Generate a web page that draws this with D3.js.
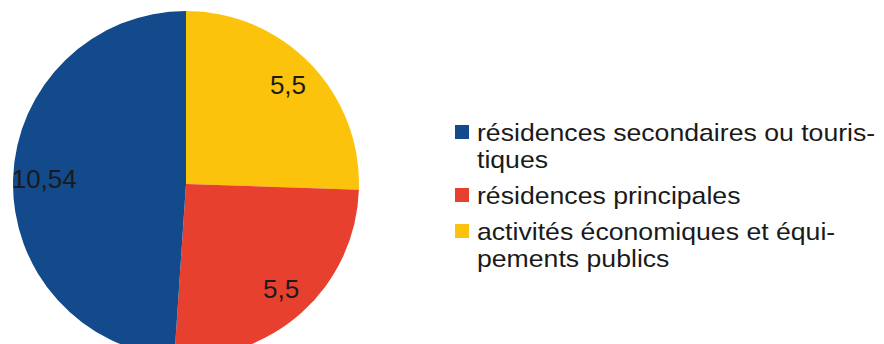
<!DOCTYPE html>
<html>
<head>
<meta charset="utf-8">
<script src="https://cdn.jsdelivr.net/npm/d3@7"></script>
<style>
  body { margin: 0; background: #fff; }
  svg { font-family: "Liberation Sans", Arial, sans-serif; }
</style>
</head>
<body>
<svg id="chart" width="884" height="344"></svg>
<script>
// Data, in drawing order (clockwise from 12 o'clock)
var labels = ["activités économiques et équipements publics", "résidences principales", "résidences secondaires ou touristiques"];
var values = [5.5, 5.5, 10.54];
var colors = ["#fcc30c", "#e8402e", "#124a8c"];

// Legend order and wrapped lines
var legendOrder = [2, 1, 0];
var legendLines = [
  ["activités économiques et équi-", "pements publics"],
  ["résidences principales"],
  ["résidences secondaires ou touris-", "tiques"]
];

var svg = d3.select("#chart");

var cx = 186, cy = 184, radius = 173;

var pie = d3.pie().sort(null).value(function (d) { return d; });
var arcs = pie(values);

var arc = d3.arc().innerRadius(0).outerRadius(radius);
var labelArc = d3.arc().innerRadius(radius * 0.82).outerRadius(radius * 0.82);

var g = svg.append("g").attr("transform", "translate(" + cx + "," + cy + ")");

g.selectAll("path")
  .data(arcs)
  .enter()
  .append("path")
  .attr("d", arc)
  .attr("fill", function (d, i) { return colors[i]; });

var fmt = function (v) { return String(v).replace(".", ","); };

g.selectAll("text")
  .data(arcs)
  .enter()
  .append("text")
  .attr("transform", function (d) { return "translate(" + labelArc.centroid(d) + ")"; })
  .attr("text-anchor", "middle")
  .attr("dy", "0.35em")
  .attr("font-size", 26)
  .attr("fill", "#1a1a1a")
  .text(function (d) { return fmt(d.data); });

// Legend (ly = baseline of each item's first line)
// the scanned text is a bit wider than Liberation Sans, so stretch it slightly
var lineH = 27, itemGap = 9;
var ly = 141;
var legend = svg.append("g");
legendOrder.forEach(function (idx) {
  var lines = legendLines[idx];
  legend.append("rect")
    .attr("x", 455)
    .attr("y", ly - 16)
    .attr("width", 14)
    .attr("height", 14)
    .attr("fill", colors[idx]);
  lines.forEach(function (line, k) {
    legend.append("text")
      .attr("transform", "translate(477," + (ly + k * lineH) + ") scale(1.11,1)")
      .attr("font-size", 24)
      .attr("fill", "#1a1a1a")
      .text(line);
  });
  ly += lines.length * lineH + itemGap;
});
</script>
</body>
</html>
